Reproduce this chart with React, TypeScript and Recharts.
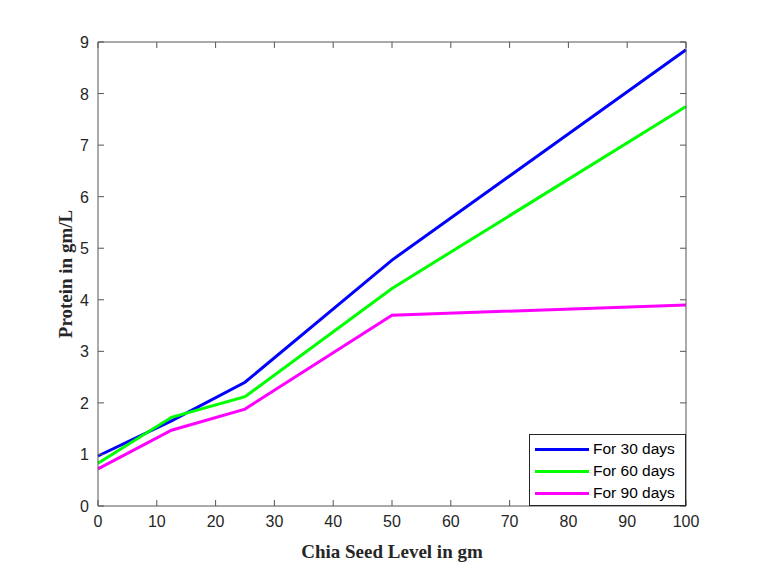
import { LineChart, Line, XAxis, YAxis } from 'recharts';

const chiaLevels = [0, 12.5, 25, 50, 100];
const days30 = [0.97, 1.65, 2.4, 4.77, 8.85];
const days60 = [0.83, 1.72, 2.12, 4.22, 7.75];
const days90 = [0.72, 1.47, 1.88, 3.7, 3.9];

const xTicks = [0, 10, 20, 30, 40, 50, 60, 70, 80, 90, 100];
const yTicks = [0, 1, 2, 3, 4, 5, 6, 7, 8, 9];

const series = [
  { key: 'd30', name: 'For 30 days', color: '#0000ff' },
  { key: 'd60', name: 'For 60 days', color: '#00ff00' },
  { key: 'd90', name: 'For 90 days', color: '#ff00ff' },
];

const data = chiaLevels.map((x, i) => ({ x, d30: days30[i], d60: days60[i], d90: days90[i] }));

const AXIS = '#555555';
const TEXT = '#262626';
const TICK_FONT = '"Liberation Sans", Arial, sans-serif';
const LABEL_FONT = '"Liberation Serif", "Times New Roman", serif';

// ticks drawn inward like matlab, labels outside
function BottomTick(props: any) {
  const { x, y, payload } = props;
  return (
    <g>
      <line x1={x} y1={y} x2={x} y2={y - 6} stroke={AXIS} />
      <text x={x} y={y + 21} textAnchor="middle" fill={TEXT} fontSize={16} fontFamily={TICK_FONT}>{payload.value}</text>
    </g>
  );
}

function TopTick(props: any) {
  const { x, y } = props;
  return <line x1={x} y1={y} x2={x} y2={y + 6} stroke={AXIS} />;
}

function LeftTick(props: any) {
  const { x, y, payload } = props;
  return (
    <g>
      <line x1={x} y1={y} x2={x + 6} y2={y} stroke={AXIS} />
      <text x={x - 9} y={y + 6} textAnchor="end" fill={TEXT} fontSize={16} fontFamily={TICK_FONT}>{payload.value}</text>
    </g>
  );
}

function RightTick(props: any) {
  const { x, y } = props;
  return <line x1={x} y1={y} x2={x - 6} y2={y} stroke={AXIS} />;
}

function LegendBox() {
  return (
    <div style={{ position: 'absolute', left: 529, top: 434, border: '1px solid #262626', background: '#fff', width: 157, height: 72, boxSizing: 'border-box', padding: '3px 0 0 5px' }}>
      {series.map((s) => (
        <div key={s.key} style={{ display: 'flex', alignItems: 'center', height: 22, fontFamily: TICK_FONT, fontSize: 15.5, color: '#000', whiteSpace: 'nowrap' }}>
          <span style={{ display: 'inline-block', width: 54, height: 3, background: s.color, marginRight: 4, flexShrink: 0 }} />
          {s.name}
        </div>
      ))}
    </div>
  );
}

export default function App() {
  return (
    <div style={{ position: 'absolute', left: 0, top: 0, width: 757, height: 568, background: '#fff' }}>
      <LineChart width={757} height={568} data={data} margin={{ top: 41, right: 70, bottom: 32, left: 58 }}>
        <XAxis
          dataKey="x"
          type="number"
          domain={[0, 100]}
          ticks={xTicks}
          interval={0}
          stroke={AXIS}
          tickSize={0}
          tickMargin={0}
          tick={<BottomTick />}
          height={30}
          label={{ value: 'Chia Seed Level in gm', position: 'insideBottom', offset: -22, fill: TEXT, fontSize: 19, fontWeight: 'bold', fontFamily: LABEL_FONT }}
        />
        <XAxis
          xAxisId="top"
          orientation="top"
          dataKey="x"
          type="number"
          domain={[0, 100]}
          ticks={xTicks}
          interval={0}
          stroke={AXIS}
          tickSize={0}
          tickMargin={0}
          tick={<TopTick />}
          height={1}
        />
        <YAxis
          type="number"
          domain={[0, 9]}
          ticks={yTicks}
          interval={0}
          stroke={AXIS}
          tickSize={0}
          tickMargin={0}
          tick={<LeftTick />}
          width={40}
          label={{ value: 'Protein in gm/L', angle: -90, position: 'insideLeft', offset: 7, fill: TEXT, fontSize: 19, fontWeight: 'bold', fontFamily: LABEL_FONT, style: { textAnchor: 'middle' } }}
        />
        <YAxis
          yAxisId="right"
          orientation="right"
          type="number"
          domain={[0, 9]}
          ticks={yTicks}
          interval={0}
          stroke={AXIS}
          tickSize={0}
          tickMargin={0}
          tick={<RightTick />}
          width={1}
        />
        {series.map((s) => (
          <Line
            key={s.key}
            type="linear"
            dataKey={s.key}
            name={s.name}
            stroke={s.color}
            strokeWidth={3}
            dot={false}
            isAnimationActive={false}
          />
        ))}
        {/* invisible series so the top/right box axes get drawn */}
        <Line xAxisId="top" yAxisId="right" dataKey="d30" stroke="none" dot={false} legendType="none" isAnimationActive={false} />
      </LineChart>
      <LegendBox />
    </div>
  );
}
